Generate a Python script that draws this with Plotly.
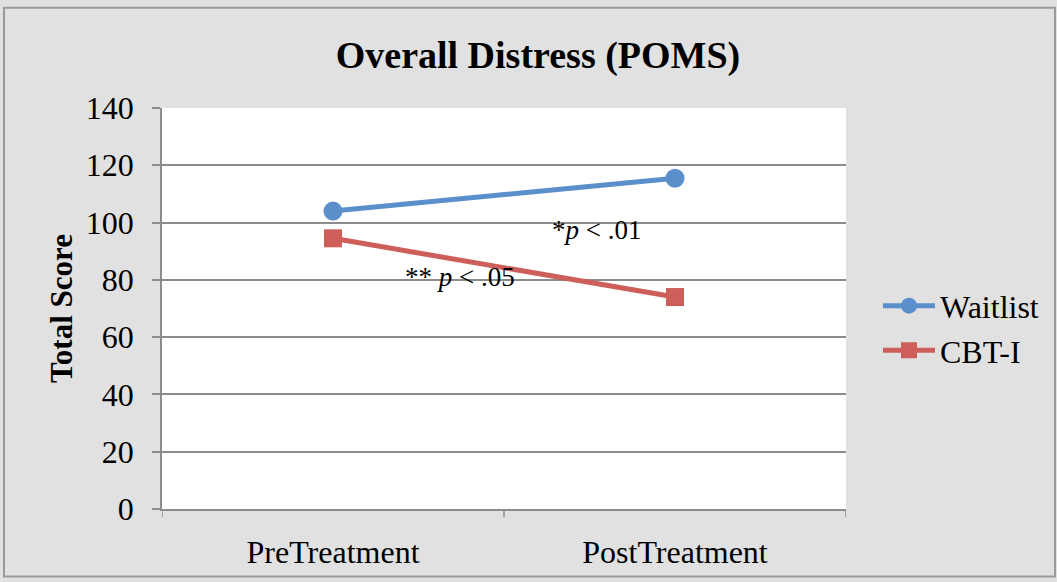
import plotly.graph_objects as go

categories = ["PreTreatment", "PostTreatment"]
waitlist = [104, 115.5]
cbti = [94.5, 74]
y_ticks = [0, 20, 40, 60, 80, 100, 120, 140]

FONT = "Liberation Serif, Times New Roman, serif"
W, H = 1057, 582
L, R, T, B = 162, 211, 108, 70

fig = go.Figure()
fig.add_trace(go.Scatter(x=[0, 1], y=waitlist, mode="lines+markers", name="Waitlist",
                         line=dict(color="#5A8FCB", width=5),
                         marker=dict(symbol="circle", size=19, color="#5A8FCB")))
fig.add_trace(go.Scatter(x=[0, 1], y=cbti, mode="lines+markers", name="CBT-I",
                         line=dict(color="#CE5E5A", width=5),
                         marker=dict(symbol="square", size=18, color="#CE5E5A")))

fig.add_annotation(x=0.77, y=97.5, xref="x", yref="y", text="*<i>p</i> < .01",
                   showarrow=False, font=dict(family=FONT, size=27, color="black"))
fig.add_annotation(x=0.37, y=81, xref="x", yref="y", text="** <i>p</i> < .05",
                   showarrow=False, font=dict(family=FONT, size=27, color="black"))

fig.update_layout(
    width=W, height=H,
    margin=dict(l=L, r=R, t=T, b=B),
    paper_bgcolor="#E1E1E1", plot_bgcolor="white",
    font=dict(family=FONT, size=32, color="black"),
    title=dict(text="<b>Overall Distress (POMS)</b>", x=538 / W, xanchor="center",
               y=1 - 55 / H, yanchor="middle", font=dict(family=FONT, size=38, color="black")),
    showlegend=True,
    legend=dict(x=(878 - L) / (W - L - R), xanchor="left", y=(512 - 330) / (H - T - B),
                yanchor="middle", bgcolor="rgba(0,0,0,0)", font=dict(family=FONT, size=32),
                itemwidth=52),
    xaxis=dict(range=[-0.5, 1.5], tickvals=[0, 1], ticktext=categories,
               showgrid=False, zeroline=False, showline=True, linecolor="#8C8C8C", linewidth=1.5,
               ticks="", tickfont=dict(family=FONT, size=32), ticklabelstandoff=14),
    yaxis=dict(range=[0, 140], tickvals=y_ticks, showgrid=True, gridcolor="#8C8C8C", gridwidth=1.5,
               zeroline=False, showline=True, linecolor="#8C8C8C", linewidth=1.5,
               ticks="outside", ticklen=8, tickcolor="#8C8C8C", tickwidth=1.5,
               tickfont=dict(family=FONT, size=32), ticklabelstandoff=12,
               title=dict(text="<b>Total Score</b>", font=dict(family=FONT, size=31), standoff=4)),
)

# category separator tick marks on x axis
for xv in [-0.5, 0.5, 1.5]:
    fig.add_shape(type="line", xref="x", yref="paper", x0=xv, x1=xv, y0=0, y1=-0.02,
                  line=dict(color="#8C8C8C", width=1.5))

# outer border
fig.add_shape(type="rect", xref="paper", yref="paper",
              x0=-(L - 4) / (W - L - R), x1=1 + (R - 2) / (W - L - R),
              y0=-(B - 2) / (H - T - B), y1=1 + (T - 7) / (H - T - B),
              line=dict(color="#9A9A9A", width=2), layer="below")

fig.write_html("out.html", config={"displayModeBar": False},
               post_script="document.body.style.margin='0';")
